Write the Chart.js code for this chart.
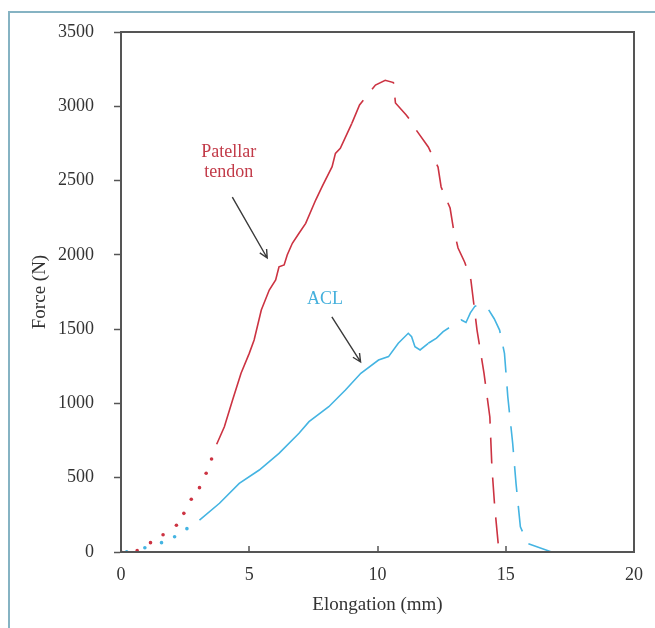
<!DOCTYPE html>
<html>
<head>
<meta charset="utf-8">
<script src="https://cdn.jsdelivr.net/npm/chart.js@4/dist/chart.umd.min.js"></script>
<style>
  html, body { margin: 0; padding: 0; background: #fff; }
  #frame { position: absolute; left: 8px; top: 11px; width: 700px; height: 700px;
           border-left: 2px solid #86b3c3; border-top: 2px solid #86b3c3; }
  #wrap { position: absolute; left: 0; top: 0; width: 655px; height: 628px; }
</style>
</head>
<body>
<div id="frame"></div>
<div id="wrap"><canvas id="chart"></canvas></div>
<script>
// elongation (mm) / force (N)
const patDotX = [0, 0.63, 1.15, 1.64, 2.16, 2.45, 2.74, 3.06, 3.32, 3.53];
const patDotY = [0, 9, 63, 116, 180, 260, 355, 433, 530, 626];
const patSolidX = [3.73, 4.03, 4.35, 4.68, 5.0, 5.19, 5.47, 5.78, 6.03, 6.16, 6.36, 6.48, 6.68, 6.94, 7.2, 7.59, 7.84, 8.23, 8.36, 8.55, 9.0];
const patSolidY = [725, 843, 1023, 1203, 1337, 1427, 1629, 1763, 1831, 1920, 1932, 1999, 2078, 2145, 2212, 2369, 2459, 2594, 2683, 2717, 2885];
const patDashX = [9.0, 9.3, 9.92, 10.3, 10.62, 10.7, 11.12, 11.3, 11.51, 11.98, 12.36, 12.48, 12.83, 12.95, 13.14, 13.4, 13.64, 13.88, 14.15, 14.38, 14.46, 14.57, 14.73];
const patDashY = [2885, 3009, 3143, 3175, 3160, 3022, 2941, 2900, 2840, 2726, 2591, 2457, 2315, 2187, 2046, 1950, 1831, 1494, 1205, 909, 572, 303, 13];

const aclDotX = [0.22, 0.93, 1.58, 2.09, 2.57];
const aclDotY = [2, 29, 63, 103, 157];
const aclSolidX = [3.06, 3.84, 4.61, 5.39, 6.16, 6.94, 7.33, 8.1, 8.75, 9.35, 10.04, 10.43, 10.81, 11.2, 11.33, 11.46, 11.66, 11.98];
const aclSolidY = [215, 328, 462, 552, 664, 799, 877, 978, 1090, 1203, 1292, 1315, 1405, 1472, 1449, 1382, 1360, 1405];
const aclDashX = [11.98, 12.3, 12.56, 12.95, 13.27, 13.45, 13.62, 13.8, 14.04, 14.3, 14.55, 14.76, 14.95, 15.01, 15.08, 15.27, 15.4, 15.57, 15.85, 16.76];
const aclDashY = [1405, 1440, 1483, 1528, 1562, 1545, 1610, 1655, 1662, 1640, 1570, 1494, 1337, 1203, 1045, 732, 462, 170, 58, 2];

const xTicks = [0, 5, 10, 15, 20];
const yTicks = [0, 500, 1000, 1500, 2000, 2500, 3000, 3500];

// callouts, in data units
const labels = [
    { text: 'Patellar', x: 4.2, y: 2690, color: '#c23a48' },
    { text: 'tendon', x: 4.2, y: 2555, color: '#c23a48' },
    { text: 'ACL', x: 7.95, y: 1700, color: '#45b0dc' }
];
const arrows = [
    { x0: 4.34, y0: 2389, x1: 5.70, y1: 1979 },
    { x0: 8.22, y0: 1582, x1: 9.34, y1: 1279 }
];

const RED = '#cc3342';
const BLUE = '#44b4e2';
const pts = (xs, ys) => xs.map((x, i) => ({ x: x, y: ys[i] }));

const extras = {
    id: 'extras',
    afterDatasetsDraw(chart) {
        const { ctx, chartArea: a, scales: { x, y } } = chart;
        ctx.save();
        // box
        ctx.strokeStyle = '#555';
        ctx.lineWidth = 2;
        ctx.strokeRect(a.left, a.top, a.right - a.left, a.bottom - a.top);
        // x ticks point inwards
        ctx.lineWidth = 1.5;
        xTicks.forEach(v => {
            const px = Math.round(x.getPixelForValue(v));
            ctx.beginPath();
            ctx.moveTo(px, a.bottom);
            ctx.lineTo(px, a.bottom - 6);
            ctx.stroke();
        });
        // arrows
        ctx.strokeStyle = '#3a3a3a';
        ctx.lineWidth = 1.4;
        arrows.forEach(ar => {
            const x0 = x.getPixelForValue(ar.x0), y0 = y.getPixelForValue(ar.y0);
            const x1 = x.getPixelForValue(ar.x1), y1 = y.getPixelForValue(ar.y1);
            const ang = Math.atan2(y1 - y0, x1 - x0);
            ctx.beginPath();
            ctx.moveTo(x0, y0);
            ctx.lineTo(x1, y1);
            ctx.moveTo(x1 - 9 * Math.cos(ang - 0.45), y1 - 9 * Math.sin(ang - 0.45));
            ctx.lineTo(x1, y1);
            ctx.lineTo(x1 - 9 * Math.cos(ang + 0.45), y1 - 9 * Math.sin(ang + 0.45));
            ctx.stroke();
        });
        // callout text
        ctx.font = '18px "Liberation Serif", serif';
        ctx.textAlign = 'center';
        ctx.textBaseline = 'middle';
        labels.forEach(l => {
            ctx.fillStyle = l.color;
            ctx.fillText(l.text, x.getPixelForValue(l.x), y.getPixelForValue(l.y));
        });
        ctx.restore();
    }
};

const lineDefaults = { showLine: true, pointRadius: 0, borderWidth: 1.6, tension: 0, fill: false };

new Chart(document.getElementById('chart'), {
    type: 'scatter',
    data: {
        datasets: [
            { data: pts(patDotX, patDotY), pointRadius: 1.8, backgroundColor: RED, borderWidth: 0 },
            { ...lineDefaults, data: pts(patSolidX, patSolidY), borderColor: RED },
            { ...lineDefaults, data: pts(patDashX, patDashY), borderColor: RED, borderDash: [26, 14] },
            { data: pts(aclDotX, aclDotY), pointRadius: 1.8, backgroundColor: BLUE, borderWidth: 0 },
            { ...lineDefaults, data: pts(aclSolidX, aclSolidY), borderColor: BLUE },
            { ...lineDefaults, data: pts(aclDashX, aclDashY), borderColor: BLUE, borderDash: [26, 14] }
        ]
    },
    options: {
        responsive: true,
        maintainAspectRatio: false,
        animation: false,
        layout: { padding: { left: 25, right: 18, top: 32, bottom: 8 } },
        plugins: { legend: { display: false }, tooltip: { enabled: false } },
        scales: {
            x: {
                type: 'linear',
                min: 0, max: 20,
                afterBuildTicks: s => { s.ticks = xTicks.map(v => ({ value: v })); },
                afterFit: s => { s.height = 68; },
                grid: { display: true, drawOnChartArea: false, drawTicks: false },
                border: { color: '#555', width: 2 },
                ticks: { color: '#333', padding: 12, callback: v => String(v), font: { family: '"Liberation Serif", serif', size: 18 } },
                title: { display: true, text: 'Elongation (mm)', color: '#333', font: { family: '"Liberation Serif", serif', size: 19 } }
            },
            y: {
                type: 'linear',
                min: 0, max: 3500,
                afterBuildTicks: s => { s.ticks = yTicks.map(v => ({ value: v })); },
                afterFit: s => { s.width = 96; },
                grid: { display: true, drawOnChartArea: false, drawTicks: true, tickLength: 7, color: '#555', tickWidth: 1.5 },
                border: { color: '#555', width: 2 },
                ticks: { color: '#333', padding: 20, callback: v => String(v), font: { family: '"Liberation Serif", serif', size: 18 } },
                title: { display: true, text: 'Force (N)', color: '#333', font: { family: '"Liberation Serif", serif', size: 19 } }
            }
        }
    },
    plugins: [extras]
});
</script>
</body>
</html>
